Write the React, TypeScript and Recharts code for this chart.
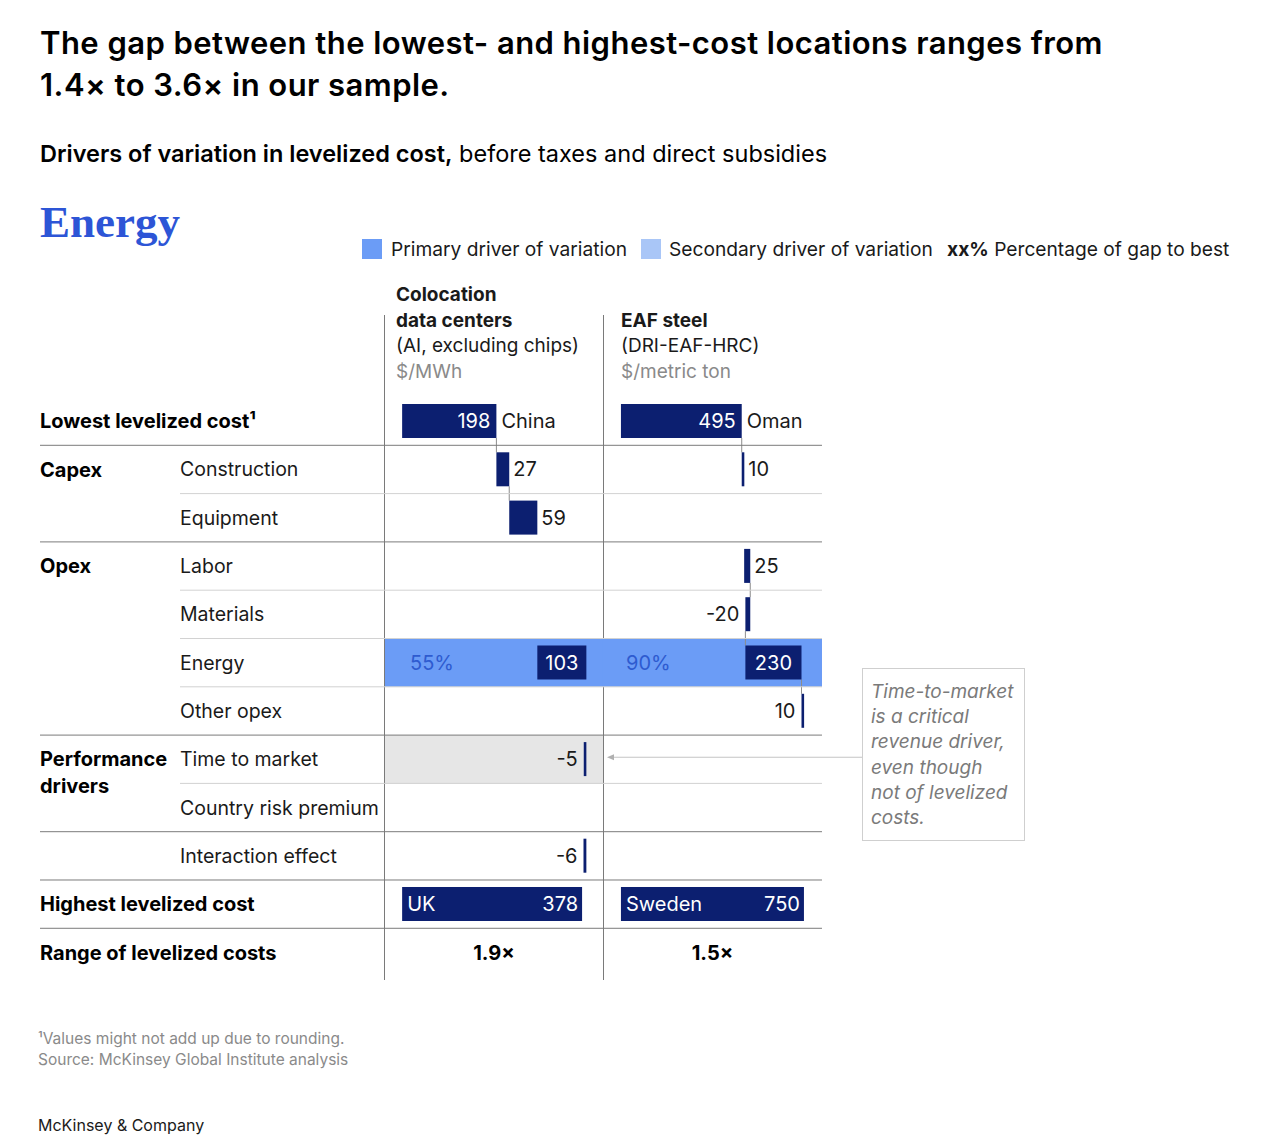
import React from 'react';
import { BarChart, Bar, XAxis, YAxis, ReferenceArea } from 'recharts';

const FONT = 'Inter, "Noto Sans", sans-serif';
const NAVY = '#0c1f70';
const PRIMARY = '#6b9cf6';
const SECONDARY = '#a9c6f7';
const SHARE_TEXT = '#2e5bd0';

// table rows, top to bottom
const rowKeys = [
  'lowest', 'construction', 'equipment', 'labor', 'materials', 'energy',
  'otherOpex', 'timeToMarket', 'countryRisk', 'interaction', 'highest', 'range',
];
const rowGroups = [
  'Lowest levelized cost¹', 'Capex', 'Capex', 'Opex', 'Opex', 'Opex', 'Opex',
  'Performance\ndrivers', 'Performance\ndrivers', '', 'Highest levelized cost',
  'Range of levelized costs',
];
const rowLabels = [
  '', 'Construction', 'Equipment', 'Labor', 'Materials', 'Energy', 'Other opex',
  'Time to market', 'Country risk premium', 'Interaction effect', '', '',
];

// colocation data centers, $/MWh (first/last = lowest/highest totals)
const dcValues = [198, 27, 59, null, null, 103, null, -5, null, -6, 378, null];
const dcPlaces = ['China', 'UK'];
const dcShares = [null, null, null, null, null, 55, null, null, null, null, null, null];
const dcOutsideCost = ['timeToMarket'];

// EAF steel, $/metric ton
const steelValues = [495, 10, null, 25, -20, 230, 10, null, null, null, 750, null];
const steelPlaces = ['Oman', 'Sweden'];
const steelShares = [null, null, null, null, null, 90, null, null, null, null, null, null];

const rangeRatios = ['1.9×', '1.5×'];

// layout
const CHART_X = 40;
const CHART_Y = 397;
const AXIS_W = 345;
const PLOT_W = 437;
const BAND = 48.3;
const SUB_X = 140;
const COL_SPLIT = 218; // px from plot left where the steel column begins
const DC_DOMAIN: [number, number] = [-36, 882];
const STEEL_DOMAIN: [number, number] = [-967, 824];
const toDomain = (d: [number, number], px: number) => d[0] + (px / PLOT_W) * (d[1] - d[0]);

function toRanges(values: (number | null)[], outside: string[]) {
  let run = 0;
  return values.map((v, i) => {
    if (v == null) return null;
    const key = rowKeys[i];
    if (key === 'lowest') {
      run = v;
      return [0, v];
    }
    if (key === 'highest') return [0, v];
    const r = [run, run + v];
    if (!outside.includes(key)) run += v;
    return r;
  });
}

const dcRanges = toRanges(dcValues, dcOutsideCost);
const steelRanges = toRanges(steelValues, []);

const data = rowKeys.map((key, i) => ({
  key,
  dc: dcRanges[i],
  steel: steelRanges[i],
  dcValue: dcValues[i],
  steelValue: steelValues[i],
}));

const textWidth = (s: string) => s.length * 11;

const makeShape = (col: 'dc' | 'steel') => (props: any) => {
  const { x, y, width, height, payload } = props;
  const i = rowKeys.indexOf(payload.key);
  const range = payload[col];
  if (!range || !Number.isFinite(x) || !Number.isFinite(width)) return <g />;
  const value: number = payload[col + 'Value'];
  const places = col === 'dc' ? dcPlaces : steelPlaces;
  const shares = col === 'dc' ? dcShares : steelShares;
  let left = Math.min(x, x + width);
  let w = Math.abs(width);
  if (w < 2.6) {
    if (value < 0) left -= 2.6 - w;
    w = 2.6;
  }
  const right = left + w;
  const cy = y + height / 2;
  const plotRight = AXIS_W + PLOT_W;
  const txt = (content: string, tx: number, anchor: string, fill: string) => (
    <text x={tx} y={cy} dy="0.36em" textAnchor={anchor} fill={fill} fontSize={20} fontFamily={FONT}>
      {content}
    </text>
  );

  const next = data[i + 1];
  const endX = value >= 0 ? right : left;
  const connector =
    next && next[col] && next.key !== 'highest' ? (
      <line x1={endX} x2={endX} y1={y + height} y2={y + BAND} stroke="#8c8c8c" strokeWidth={1} />
    ) : null;

  let labels: React.ReactNode = null;
  const label = String(value);
  if (payload.key === 'lowest') {
    labels = (
      <>
        {txt(label, right - 6, 'end', '#fff')}
        {txt(places[0], right + 5, 'start', '#1a1a1a')}
      </>
    );
  } else if (payload.key === 'highest') {
    labels = (
      <>
        {txt(places[1], left + 5, 'start', '#fff')}
        {txt(label, right - 4, 'end', '#fff')}
      </>
    );
  } else if (shares[i] != null) {
    labels = txt(label, left + w / 2, 'middle', '#fff');
  } else if (value >= 0 && right + 5 + textWidth(label) <= plotRight) {
    labels = txt(label, right + 4, 'start', '#1a1a1a');
  } else {
    labels = txt(label, left - 6, 'end', '#1a1a1a');
  }

  return (
    <g>
      {connector}
      <rect x={left} y={y} width={w} height={height} fill={NAVY} />
      {labels}
    </g>
  );
};

const RowTick = (props: any) => {
  const { y, payload } = props;
  const i = rowKeys.indexOf(payload.value);
  const group = rowGroups[i];
  const showGroup = group !== '' && group !== rowGroups[i - 1];
  const hasNext = i < rowKeys.length - 1;
  const fullLine = hasNext && rowGroups[i + 1] !== group;
  const bottom = y + BAND / 2;
  return (
    <g>
      {showGroup &&
        group.split('\n').map((line, k) => (
          <text key={k} x={0} y={y + k * 27} dy="0.36em" fontSize={20} fontWeight={700} fill="#000" fontFamily={FONT}>
            {line}
          </text>
        ))}
      {rowLabels[i] !== '' && (
        <text x={SUB_X} y={y} dy="0.36em" fontSize={19.5} fill="#1a1a1a" fontFamily={FONT}>
          {rowLabels[i]}
        </text>
      )}
      {hasNext && (
        <line
          x1={fullLine ? 0 : SUB_X}
          x2={AXIS_W + PLOT_W}
          y1={bottom}
          y2={bottom}
          stroke={fullLine ? '#7a7a7a' : '#d2d2d2'}
          strokeWidth={1}
        />
      )}
    </g>
  );
};

export default function App() {
  const dcColEnd = toDomain(DC_DOMAIN, COL_SPLIT);
  const steelColStart = toDomain(STEEL_DOMAIN, COL_SPLIT);
  const arrowY = CHART_Y + (rowKeys.indexOf('timeToMarket') + 0.5) * BAND - 2;

  return (
    <div
      style={{
        position: 'absolute',
        left: 0,
        top: 0,
        width: 1280,
        height: 1135,
        background: '#fff',
        fontFamily: FONT,
        color: '#000',
      }}
    >
      <div style={{ position: 'absolute', left: 40, top: 22, fontSize: 31, lineHeight: '42px', fontWeight: 600, letterSpacing: 0.45, whiteSpace: 'nowrap' }}>
        The gap between the lowest- and highest-cost locations ranges from
        <br />
        1.4× to 3.6× in our sample.
      </div>
      <div style={{ position: 'absolute', left: 40, top: 140, fontSize: 23.5, lineHeight: '28px', whiteSpace: 'nowrap' }}>
        <span style={{ fontWeight: 600 }}>Drivers of variation in levelized cost,</span> before taxes and direct
        subsidies
      </div>
      <div
        style={{
          position: 'absolute',
          left: 40,
          top: 196,
          fontSize: 45,
          lineHeight: '52px',
          fontWeight: 700,
          fontFamily: '"Liberation Serif", "DejaVu Serif", serif',
          color: '#2d55d6',
        }}
      >
        Energy
      </div>

      {/* legend */}
      <div style={{ position: 'absolute', left: 362, top: 239, width: 20, height: 20, background: PRIMARY }} />
      <div style={{ position: 'absolute', left: 391, top: 236, fontSize: 19.2, lineHeight: '26px', color: '#1a1a1a' }}>
        Primary driver of variation
      </div>
      <div style={{ position: 'absolute', left: 641, top: 239, width: 20, height: 20, background: SECONDARY }} />
      <div style={{ position: 'absolute', left: 669, top: 236, fontSize: 19.2, lineHeight: '26px', color: '#1a1a1a' }}>
        Secondary driver of variation
      </div>
      <div style={{ position: 'absolute', left: 947, top: 236, fontSize: 19.2, lineHeight: '26px', color: '#1a1a1a' }}>
        <b>xx%</b> Percentage of gap to best
      </div>

      {/* column headers */}
      <div style={{ position: 'absolute', left: 396, top: 282, fontSize: 19, lineHeight: '25.5px', color: '#1a1a1a' }}>
        <div style={{ fontWeight: 700 }}>Colocation</div>
        <div style={{ fontWeight: 700 }}>data centers</div>
        <div>(AI, excluding chips)</div>
        <div style={{ color: '#8a8a8a' }}>$/MWh</div>
      </div>
      <div style={{ position: 'absolute', left: 621, top: 307.5, fontSize: 19, lineHeight: '25.5px', color: '#1a1a1a' }}>
        <div style={{ fontWeight: 700 }}>EAF steel</div>
        <div>(DRI-EAF-HRC)</div>
        <div style={{ color: '#8a8a8a' }}>$/metric ton</div>
      </div>

      {/* column dividers */}
      <div style={{ position: 'absolute', left: 384, top: 315, width: 1, height: 665, background: '#7a7a7a' }} />
      <div style={{ position: 'absolute', left: 603, top: 315, width: 1, height: 665, background: '#7a7a7a' }} />

      <div style={{ position: 'absolute', left: CHART_X, top: CHART_Y }}>
        <BarChart
          width={AXIS_W + PLOT_W + 20}
          height={BAND * rowKeys.length}
          data={data}
          layout="vertical"
          margin={{ top: 0, right: 20, left: 0, bottom: 0 }}
          barCategoryGap={0}
          style={{ overflow: 'visible' }}
        >
          <XAxis xAxisId="dc" type="number" domain={DC_DOMAIN} allowDataOverflow hide />
          <XAxis xAxisId="steel" type="number" domain={STEEL_DOMAIN} allowDataOverflow hide />
          <YAxis
            yAxisId="dc"
            type="category"
            dataKey="key"
            width={AXIS_W}
            interval={0}
            axisLine={false}
            tickLine={false}
            tick={<RowTick />}
          />
          <YAxis yAxisId="steel" type="category" dataKey="key" hide />

          {data.map((d, i) =>
            dcShares[i] != null ? (
              <ReferenceArea
                key={'dcs' + d.key}
                xAxisId="dc"
                yAxisId="dc"
                x1={DC_DOMAIN[0]}
                x2={dcColEnd}
                y1={d.key}
                y2={d.key}
                ifOverflow="visible"
                fill={PRIMARY}
                fillOpacity={1}
                label={{ value: dcShares[i] + '%', position: 'insideLeft', offset: 25, fill: SHARE_TEXT, fontSize: 20, fontFamily: FONT }}
              />
            ) : null,
          )}
          {data.map((d, i) =>
            steelShares[i] != null ? (
              <ReferenceArea
                key={'sts' + d.key}
                xAxisId="steel"
                yAxisId="steel"
                x1={steelColStart}
                x2={STEEL_DOMAIN[1]}
                y1={d.key}
                y2={d.key}
                ifOverflow="visible"
                fill={PRIMARY}
                fillOpacity={1}
                label={{ value: steelShares[i] + '%', position: 'insideLeft', offset: 23, fill: SHARE_TEXT, fontSize: 20, fontFamily: FONT }}
              />
            ) : null,
          )}
          {dcOutsideCost.map((k) => (
            <ReferenceArea
              key={'out' + k}
              xAxisId="dc"
              yAxisId="dc"
              x1={DC_DOMAIN[0]}
              x2={dcColEnd}
              y1={k}
              y2={k}
              ifOverflow="visible"
              fill="#e6e6e6"
              fillOpacity={1}
            />
          ))}
          <ReferenceArea
            xAxisId="dc"
            yAxisId="dc"
            x1={DC_DOMAIN[0]}
            x2={dcColEnd}
            y1="range"
            y2="range"
            ifOverflow="visible"
            fillOpacity={0}
            label={{ value: rangeRatios[0], position: 'center', fill: '#000', fontSize: 20, fontWeight: 700, fontFamily: FONT }}
          />
          <ReferenceArea
            xAxisId="steel"
            yAxisId="steel"
            x1={steelColStart}
            x2={STEEL_DOMAIN[1]}
            y1="range"
            y2="range"
            ifOverflow="visible"
            fillOpacity={0}
            label={{ value: rangeRatios[1], position: 'center', fill: '#000', fontSize: 20, fontWeight: 700, fontFamily: FONT }}
          />

          <Bar dataKey="dc" xAxisId="dc" yAxisId="dc" barSize={34} isAnimationActive={false} shape={makeShape('dc')} />
          <Bar dataKey="steel" xAxisId="steel" yAxisId="steel" barSize={34} isAnimationActive={false} shape={makeShape('steel')} />
        </BarChart>
      </div>

      {/* annotation */}
      <svg style={{ position: 'absolute', left: 0, top: 0, pointerEvents: 'none' }} width={1280} height={1135}>
        <line x1={862} x2={611} y1={arrowY} y2={arrowY} stroke="#c4c4c4" strokeWidth={1.2} />
        <polygon points={`607,${arrowY} 614,${arrowY - 3} 614,${arrowY + 3}`} fill="#b0b0b0" />
      </svg>
      <div
        style={{
          position: 'absolute',
          left: 862,
          top: 668,
          width: 163,
          height: 173,
          boxSizing: 'border-box',
          border: '1.5px solid #cfcfcf',
          padding: '10px 0 0 8px',
          fontSize: 19,
          lineHeight: '25.2px',
          fontStyle: 'italic',
          color: '#7a7a7a',
          whiteSpace: 'nowrap',
        }}
      >
        Time-to-market
        <br />
        is a critical
        <br />
        revenue driver,
        <br />
        even though
        <br />
        not of levelized
        <br />
        costs.
      </div>

      {/* footnotes */}
      <div style={{ position: 'absolute', left: 38, top: 1028, fontSize: 15.5, lineHeight: '21px', color: '#8a8a8a' }}>
        ¹Values might not add up due to rounding.
        <br />
        Source: McKinsey Global Institute analysis
      </div>
      <div style={{ position: 'absolute', left: 38, top: 1114, fontSize: 16, lineHeight: '22px', color: '#1a1a1a' }}>
        McKinsey &amp; Company
      </div>
    </div>
  );
}
